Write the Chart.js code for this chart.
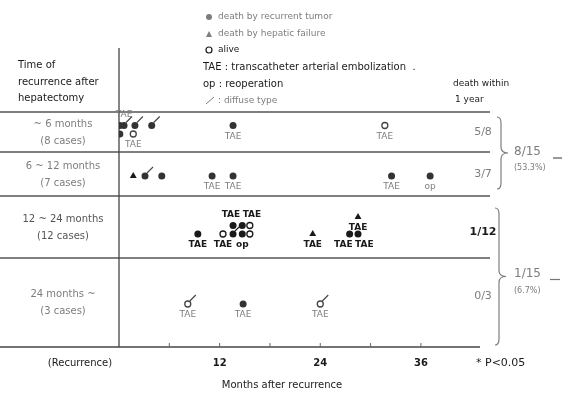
<!DOCTYPE html>
<html>
<head>
<meta charset="utf-8">
<script src="https://cdn.jsdelivr.net/npm/chart.js@4/dist/chart.umd.min.js"></script>
<style>
  html, body { margin: 0; padding: 0; background: #fff; }
  #wrap { width: 564px; height: 398px; }
</style>
</head>
<body>
<div id="wrap"><canvas id="c" width="564" height="398"></canvas></div>
<script>
// rows, top to bottom
const rowLabels = ["~ 6 months", "6 ~ 12 months", "12 ~ 24 months", "24 months ~"];
const rowCases = ["(8 cases)", "(7 cases)", "(12 cases)", "(3 cases)"];
const deathWithinYear = ["5/8", "3/7", "1/12", "0/3"];
const groupTotals = ["8/15", "1/15"];
const groupPercents = ["(53.3%)", "(6.7%)"];
const xTicks = [6, 12, 18, 24, 30, 36];
const xTickLabels = [12, 24, 36];

// one entry per case
const caseMonth = [0.1, 0.6, 0.1, 1.9, 1.7, 3.9, 13.6, 31.7,
                   1.7, 3.1, 5.1, 11.1, 13.6, 32.5, 37.1,
                   9.4, 12.4, 13.6, 14.7, 15.6, 13.6, 14.7, 15.6, 23.1, 28.5, 27.5, 28.5,
                   8.2, 14.8, 24.0];
const caseRow = [0, 0, 0, 0, 0, 0, 0, 0,
                 1, 1, 1, 1, 1, 1, 1,
                 2, 2, 2, 2, 2, 2, 2, 2, 2, 2, 2, 2,
                 3, 3, 3];
// stacking level inside a row, so close cases do not overlap
const caseLane = [1, 1, 0, 1, 0, 1, 1, 1,
                  0, 0, 0, 0, 0, 0, 0,
                  0, 0, 0, 0, 0, 1, 1, 1, 0, 2, 0, 0,
                  0, 0, 0];
const caseOutcome = ["tumor", "tumor", "tumor", "tumor", "alive", "tumor", "tumor", "alive",
                     "hepatic", "tumor", "tumor", "tumor", "tumor", "tumor", "tumor",
                     "tumor", "alive", "tumor", "tumor", "alive", "tumor", "tumor", "alive", "hepatic", "hepatic", "tumor", "tumor",
                     "alive", "tumor", "alive"];
const caseTreat = ["", "TAE", "", "", "TAE", "", "TAE", "TAE",
                   "", "", "", "TAE", "TAE", "TAE", "op",
                   "TAE", "TAE", "", "op", "", "TAE", "", "TAE", "TAE", "TAE", "TAE", "TAE",
                   "TAE", "TAE", "TAE"];
// 1 = label above the mark, -1 = below
const caseLabelSide = [1, 1, -1, -1, -1, -1, -1, -1,
                       -1, -1, -1, -1, -1, -1, -1,
                       -1, -1, -1, -1, -1, 1, 1, 1, -1, -1, -1, -1,
                       -1, -1, -1];
const caseDiffuse = [false, true, false, true, false, true, false, false,
                     false, true, false, false, false, false, false,
                     false, false, true, false, false, false, false, false, false, false, false, false,
                     true, false, true];

// layout of the rows (y units measured down from the header line)
const rowEdges = [0, 40, 84, 146, 235];
const rowBaseline = [22, 64, 122, 192];
const laneStep = 8.5;

const GRAY = "#7d7d7d";
const INK = "#1a1a1a";
const FONT = "'DejaVu Sans', sans-serif";

function caseY(i) {
  return rowBaseline[caseRow[i]] - caseLane[i] * laneStep;
}

function pointsFor(outcome) {
  const pts = [];
  caseMonth.forEach((m, i) => {
    if (caseOutcome[i] === outcome) pts.push({ x: m, y: caseY(i), i: i });
  });
  return pts;
}

function txt(ctx, s, x, y, font, color, align) {
  ctx.font = font;
  ctx.fillStyle = color;
  ctx.textAlign = align || "left";
  ctx.textBaseline = "middle";
  ctx.fillText(s, x, y);
}

function line(ctx, x1, y1, x2, y2, w, color) {
  ctx.beginPath();
  ctx.moveTo(x1, y1);
  ctx.lineTo(x2, y2);
  ctx.lineWidth = w;
  ctx.strokeStyle = color;
  ctx.stroke();
}

function brace(ctx, x, top, bottom, tip) {
  const mid = (top + bottom) / 2;
  ctx.beginPath();
  ctx.moveTo(x - 4, top);
  ctx.quadraticCurveTo(x, top, x, top + 6);
  ctx.lineTo(x, mid - 6);
  ctx.quadraticCurveTo(x, mid, x + tip, mid);
  ctx.quadraticCurveTo(x, mid, x, mid + 6);
  ctx.lineTo(x, bottom - 6);
  ctx.quadraticCurveTo(x, bottom, x - 4, bottom);
  ctx.lineWidth = 1.2;
  ctx.strokeStyle = GRAY;
  ctx.stroke();
}

const tablePlugin = {
  id: "table",
  beforeDatasetsDraw(chart) {
    const ctx = chart.ctx;
    const xs = chart.scales.x, ys = chart.scales.y;
    const a = chart.chartArea;
    ctx.save();
    // row separators
    rowEdges.slice(0, 4).forEach((e) => {
      line(ctx, 0, ys.getPixelForValue(e), 490, ys.getPixelForValue(e), 1.3, "#555");
    });
    // axes
    line(ctx, a.left, 48, a.left, a.bottom, 1.3, "#444");
    line(ctx, 0, a.bottom, 480, a.bottom, 1.3, "#444");
    xTicks.forEach((t) => {
      const px = xs.getPixelForValue(t);
      line(ctx, px, a.bottom - 4, px, a.bottom, 1, "#666");
    });
    ctx.restore();
  },
  afterDatasetsDraw(chart) {
    const ctx = chart.ctx;
    const xs = chart.scales.x, ys = chart.scales.y;
    const a = chart.chartArea;
    ctx.save();

    // diffuse marks
    caseMonth.forEach((m, i) => {
      const px = xs.getPixelForValue(m), py = ys.getPixelForValue(caseY(i));
      const dark = caseRow[i] === 2 ? INK : "#444";
      if (caseDiffuse[i]) line(ctx, px + 2, py - 3, px + 8, py - 9, 1.1, dark);
    });

    // treatment labels, pushed apart when two of them would touch
    const labels = [];
    caseMonth.forEach((m, i) => {
      if (!caseTreat[i]) return;
      labels.push({
        i: i,
        x: xs.getPixelForValue(m),
        y: ys.getPixelForValue(caseY(i)) - caseLabelSide[i] * 11,
      });
    });
    labels.sort((p, q) => p.x - q.x);
    for (let k = 1; k < labels.length; k++) {
      for (let j = 0; j < k; j++) {
        const p = labels[j], q = labels[k];
        if (Math.abs(p.y - q.y) < 6 && q.x - p.x < 21 && caseTreat[p.i] === "TAE" && caseTreat[q.i] === "TAE") {
          const push = (21 - (q.x - p.x)) / 2;
          p.x -= push;
          q.x += push;
        }
      }
    }
    labels.forEach((l) => {
      const r = caseRow[l.i];
      txt(ctx, caseTreat[l.i], l.x, l.y, r === 2 ? "bold 9px " + FONT : "9px " + FONT,
          r === 2 ? INK : GRAY, "center");
    });

    // left header and row labels
    txt(ctx, "Time of", 18, 65, "10px " + FONT, INK);
    txt(ctx, "recurrence after", 18, 82, "10px " + FONT, INK);
    txt(ctx, "hepatectomy", 18, 98, "10px " + FONT, INK);
    rowLabels.forEach((s, r) => {
      const top = ys.getPixelForValue(rowEdges[r]), bot = ys.getPixelForValue(rowEdges[r + 1]);
      const mid = (top + bot) / 2;
      const col = r === 2 ? "#555" : GRAY;
      txt(ctx, s, 63, mid - 8, "10px " + FONT, col, "center");
      txt(ctx, rowCases[r], 63, mid + 9, "10px " + FONT, col, "center");
      const fy = ys.getPixelForValue(rowBaseline[r]) - (r === 3 ? 8 : 2);
      txt(ctx, deathWithinYear[r], 483, fy, r === 2 ? "bold 11px " + FONT : "11px " + FONT,
          r === 2 ? INK : GRAY, "center");
    });

    // right side summary
    txt(ctx, "death within", 453, 84, "9px " + FONT, INK);
    txt(ctx, "1 year", 455, 100, "9px " + FONT, INK);
    brace(ctx, 501, ys.getPixelForValue(rowEdges[0]) + 5, ys.getPixelForValue(rowEdges[2]) - 7, 7);
    brace(ctx, 499, ys.getPixelForValue(rowEdges[2]) + 12, ys.getPixelForValue(rowEdges[4]) - 2, 7);
    const g1 = (ys.getPixelForValue(rowEdges[0]) + ys.getPixelForValue(rowEdges[2])) / 2;
    const g2 = (ys.getPixelForValue(rowEdges[2]) + 12 + ys.getPixelForValue(rowEdges[4])) / 2;
    txt(ctx, groupTotals[0], 514, g1 - 2, "12px " + FONT, GRAY);
    txt(ctx, groupPercents[0], 514, g1 + 14, "8px " + FONT, GRAY);
    txt(ctx, groupTotals[1], 514, g2 - 4, "12px " + FONT, GRAY);
    txt(ctx, groupPercents[1], 514, g2 + 13, "8px " + FONT, GRAY);
    line(ctx, 553, g1 + 4, 562, g1 + 4, 1.2, "#555");
    line(ctx, 550, g2 + 2, 560, g2 + 2, 1.2, "#777");

    // x axis text
    xTickLabels.forEach((t) => {
      txt(ctx, String(t), xs.getPixelForValue(t), a.bottom + 16, "bold 10px " + FONT, INK, "center");
    });
    txt(ctx, "(Recurrence)", 80, a.bottom + 16, "10px " + FONT, INK, "center");
    txt(ctx, "* P<0.05", 476, a.bottom + 16, "11px " + FONT, INK);
    txt(ctx, "Months after recurrence", 282, a.bottom + 38, "10px " + FONT, INK, "center");

    // key
    const kx = 206;
    ctx.fillStyle = GRAY;
    ctx.beginPath(); ctx.arc(kx + 3, 17, 3, 0, Math.PI * 2); ctx.fill();
    txt(ctx, "death by recurrent tumor", kx + 12, 17, "9px " + FONT, GRAY);
    ctx.beginPath(); ctx.moveTo(kx, 37); ctx.lineTo(kx + 6, 37); ctx.lineTo(kx + 3, 31); ctx.closePath(); ctx.fill();
    txt(ctx, "death by hepatic failure", kx + 12, 34, "9px " + FONT, GRAY);
    ctx.beginPath(); ctx.arc(kx + 3, 50, 3, 0, Math.PI * 2);
    ctx.lineWidth = 1.2; ctx.strokeStyle = INK; ctx.stroke();
    txt(ctx, "alive", kx + 12, 50, "9px " + FONT, INK);
    txt(ctx, "TAE : transcatheter arterial embolization  .", 203, 67, "10px " + FONT, INK);
    txt(ctx, "op : reoperation", 203, 84, "10px " + FONT, INK);
    line(ctx, kx, 104, kx + 8, 97, 1, GRAY);
    txt(ctx, ": diffuse type", kx + 12, 101, "9px " + FONT, GRAY);

    ctx.restore();
  }
};

const ctx = document.getElementById("c").getContext("2d");
new Chart(ctx, {
  type: "scatter",
  data: {
    datasets: [
      {
        label: "death by recurrent tumor",
        data: pointsFor("tumor"),
        pointStyle: "circle",
        pointRadius: 3.5,
        backgroundColor: (c) => (c.raw && caseRow[c.raw.i] === 2 ? INK : "#333"),
        borderColor: (c) => (c.raw && caseRow[c.raw.i] === 2 ? INK : "#333"),
        borderWidth: 0,
      },
      {
        label: "death by hepatic failure",
        data: pointsFor("hepatic"),
        pointStyle: "triangle",
        pointRadius: 4,
        backgroundColor: INK,
        borderColor: INK,
        borderWidth: 0,
      },
      {
        label: "alive",
        data: pointsFor("alive"),
        pointStyle: "circle",
        pointRadius: 3,
        backgroundColor: "#fff",
        borderColor: (c) => (c.raw && caseRow[c.raw.i] === 2 ? INK : "#444"),
        borderWidth: 1.3,
      },
    ],
  },
  options: {
    responsive: false,
    animation: false,
    layout: { padding: { left: 119, right: 76, top: 112, bottom: 51 } },
    scales: {
      x: { type: "linear", min: 0, max: 44, display: false },
      y: { type: "linear", min: 0, max: 235, reverse: true, display: false },
    },
    plugins: {
      legend: { display: false },
      tooltip: { enabled: false },
    },
  },
  plugins: [tablePlugin],
});
</script>
</body>
</html>
